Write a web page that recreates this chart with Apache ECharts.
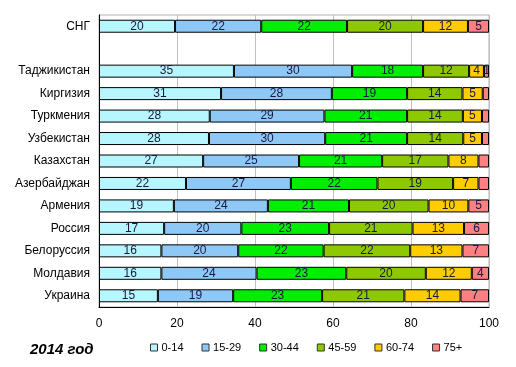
<!DOCTYPE html>
<html>
<head>
<meta charset="utf-8">
<script src="https://cdn.jsdelivr.net/npm/echarts@6/dist/echarts.min.js"></script>
<style>html,body{margin:0;padding:0;background:#fff}#c{width:516px;height:367px}</style>
</head>
<body>
<div id="c"></div>
<script>
var categories = ['СНГ', '', 'Таджикистан', 'Киргизия', 'Туркмения', 'Узбекистан', 'Казахстан', 'Азербайджан', 'Армения', 'Россия', 'Белоруссия', 'Молдавия', 'Украина'];
var ageGroups = ['0-14', '15-29', '30-44', '45-59', '60-74', '75+'];
var v0_14  = [19.5, null, 34.6, 31.3, 28.4, 28.2, 26.7, 22.3, 19.2, 16.7, 16.0, 16.0, 15.1];
var v15_29 = [22.1, null, 30.3, 28.4, 29.4, 29.8, 24.6, 26.9, 24.1, 19.8, 19.7, 24.4, 19.3];
var v30_44 = [22.0, null, 18.2, 19.3, 21.2, 21.0, 21.3, 22.2, 20.8, 22.5, 21.9, 23.0, 22.8];
var v45_59 = [19.5, null, 11.8, 14.2, 14.3, 14.4, 17.0, 19.4, 20.4, 21.4, 22.2, 20.4, 21.1];
var v60_74 = [11.5, null, 3.8, 5.2, 4.9, 4.8, 7.7, 6.5, 10.2, 13.2, 13.4, 11.8, 14.4];
var v75    = [5.4, null, 1.3, 1.6, 1.8, 1.8, 2.7, 2.7, 5.3, 6.4, 6.8, 4.4, 7.3];
// printed labels of the 75+ segments ('' = not printed)
var labels75 = ['5', '', '1', '', '', '', '', '', '5', '6', '7', '4', '7'];
var xTicks = [0, 20, 40, 60, 80, 100];
var colors = ['#b6f6ff', '#8ec8f6', '#00ee00', '#8ec800', '#ffcc00', '#ff8080'];

var seriesValues = [v0_14, v15_29, v30_44, v45_59, v60_74, v75];
var chart = echarts.init(document.getElementById('c'), null, {renderer: 'canvas'});
var series = seriesValues.map(function (vals, i) {
  return {
    name: ageGroups[i],
    type: 'bar',
    stack: 'all',
    barWidth: 13,
    data: vals,
    itemStyle: {color: colors[i], borderColor: '#000', borderWidth: 1},
    label: {
      show: true,
      position: 'inside',
      color: '#1a1a40',
      fontFamily: 'Liberation Sans, Arial, sans-serif',
      fontSize: 12,
      formatter: function (p) {
        if (p.value == null) return '';
        if (i === 5) return labels75[p.dataIndex];
        return String(Math.round(p.value));
      }
    },
    emphasis: {disabled: true}
  };
});

chart.setOption({
  animation: false,
  textStyle: {fontFamily: 'Liberation Sans, Arial, sans-serif'},
  grid: {left: 99, right: 27, top: 15, bottom: 60, show: true, borderColor: '#b0b0b0', borderWidth: 1, containLabel: false},
  title: {
    text: '2014 год', left: 25, top: 337,
    textStyle: {fontSize: 15, fontWeight: 'bold', fontStyle: 'italic', color: '#000', fontFamily: 'Liberation Sans, Arial, sans-serif'}
  },
  legend: {
    data: ageGroups, left: 145, top: 337, itemWidth: 7, itemHeight: 7, itemGap: 18,
    icon: 'rect',
    itemStyle: {borderColor: '#333', borderWidth: 1},
    textStyle: {fontSize: 11, color: '#000', padding: [0, 0, 0, -1]}
  },
  xAxis: {
    type: 'value', min: 0, max: 100, interval: 20,
    axisLine: {show: true, lineStyle: {color: '#000', width: 1}},
    axisTick: {show: false},
    axisLabel: {fontSize: 12, color: '#000', margin: 11, formatter: function (v) { return xTicks.indexOf(v) >= 0 ? String(v) : ''; }},
    splitLine: {show: true, lineStyle: {color: '#c0c0c0', width: 1}}
  },
  yAxis: {
    type: 'category', data: categories, inverse: true,
    axisLine: {show: true, onZero: false, lineStyle: {color: '#000', width: 1}},
    axisTick: {show: false},
    axisLabel: {fontSize: 12, color: '#000', margin: 9},
    splitLine: {show: false}
  },
  series: series
});
</script>
</body>
</html>
